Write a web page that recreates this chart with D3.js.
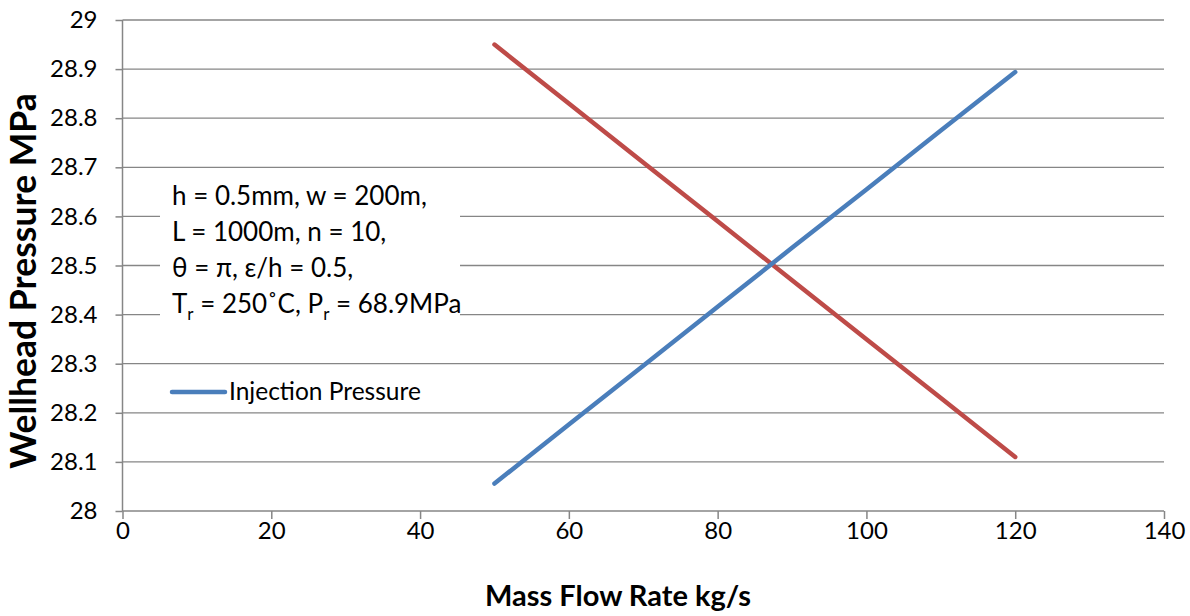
<!DOCTYPE html>
<html><head><meta charset="utf-8">
<script src="https://cdn.jsdelivr.net/npm/d3@7"></script>
<style>body{margin:0;background:#fff}svg{display:block}text{font-family:Lato,"Open Sans",sans-serif}</style>
</head><body><svg id="c" width="1190" height="616"></svg>
<script>
const massFlow = [50, 60, 70, 80, 90, 100, 110, 120];
const injectionPressure = [28.056, 28.176, 28.296, 28.416, 28.536, 28.655, 28.775, 28.894];
const productionPressure = [28.95, 28.83, 28.71, 28.59, 28.47, 28.35, 28.23, 28.11];
const xTicks = [0, 20, 40, 60, 80, 100, 120, 140];
const yTicks = [28, 28.1, 28.2, 28.3, 28.4, 28.5, 28.6, 28.7, 28.8, 28.9, 29];
const annotation = ["h = 0.5mm, w = 200m,", "L = 1000m, n = 10,", "θ = π, ε/h = 0.5,", "T_r = 250˚C, P_r = 68.9MPa"];
const legendLabel = "Injection Pressure";

const svg = d3.select("#c");
const x = d3.scaleLinear().domain([0, 140]).range([122.5, 1164]);
const y = d3.scaleLinear().domain([28, 29]).range([511, 20]);
const grey = "#868686";

// gridlines
svg.append("g").selectAll("line").data(yTicks.filter(d => d > 28)).join("line")
  .attr("x1", x(0)).attr("x2", x(140)).attr("y1", d => y(d)).attr("y2", d => y(d))
  .attr("stroke", grey).attr("stroke-width", 1.3);

// axes
const yAxis = d3.axisLeft(y).tickValues(yTicks).tickSize(7).tickPadding(18).tickFormat(d => String(+d.toFixed(1)));
const gy = svg.append("g").attr("transform", `translate(${x(0)},0)`).call(yAxis);
const xAxis = d3.axisBottom(x).tickValues(xTicks).tickSize(8).tickPadding(3);
const gx = svg.append("g").attr("transform", `translate(0,${y(28)})`).call(xAxis);
[gx, gy].forEach(g => {
  g.select(".domain").attr("stroke", grey).attr("stroke-width", 1.5);
  g.selectAll(".tick line").attr("stroke", grey).attr("stroke-width", 1.5);
  g.selectAll(".tick text").attr("fill", "#000").style("font-size", "24px").style("font-family", "Lato");
});
gy.select(".domain").attr("d", `M0,${y(29)}V${y(28)}`);
gx.select(".domain").attr("d", `M${x(0)},0H${x(140)}`);

// annotation box
svg.append("rect").attr("x", 160).attr("y", 178).attr("width", 300).attr("height", 175).attr("fill", "#fff");

// series
const line = d3.line().x(d => x(d[0])).y(d => y(d[1]));
svg.append("path").datum(massFlow.map((m, i) => [m, productionPressure[i]]))
  .attr("d", line).attr("fill", "none").attr("stroke", "#BE4B48").attr("stroke-width", 4.5).attr("stroke-linecap", "round");
svg.append("path").datum(massFlow.map((m, i) => [m, injectionPressure[i]]))
  .attr("d", line).attr("fill", "none").attr("stroke", "#4A7EBB").attr("stroke-width", 4.5).attr("stroke-linecap", "round");

// annotation text
const ann = svg.append("g").style("font-size", "26px");
annotation.forEach((s, i) => {
  const t = ann.append("text").attr("x", 172).attr("y", 205 + i * 36);
  let sub = false;
  s.split(/(_r)/).forEach(p => {
    if (p === "_r") { t.append("tspan").text("r").attr("dy", 7).style("font-size", "17px"); sub = true; }
    else if (p.length) { const ts = t.append("tspan").text(p); if (sub) { ts.attr("dy", -7); sub = false; } }
  });
});

// legend
svg.append("line").attr("x1", 172).attr("x2", 225).attr("y1", 392).attr("y2", 392)
  .attr("stroke", "#4A7EBB").attr("stroke-width", 4.5).attr("stroke-linecap", "round");
svg.append("text").attr("x", 229).attr("y", 400).style("font-size", "24.5px").text(legendLabel);

// axis titles
svg.append("text").attr("x", 618).attr("y", 606).attr("text-anchor", "middle")
  .style("font-size", "29px").style("font-weight", "bold").text("Mass Flow Rate kg/s");
svg.append("text").attr("transform", `translate(36,281) rotate(-90)`).attr("text-anchor", "middle")
  .style("font-size", "35.5px").style("font-weight", "bold").text("Wellhead Pressure MPa");
</script></body></html>
